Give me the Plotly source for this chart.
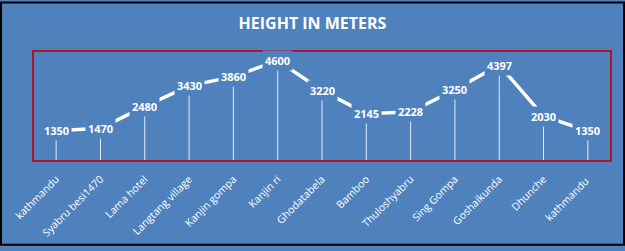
import plotly.graph_objects as go

categories = ["kathmandu", "Syabru besi1470", "Lama hotel", "Langtang village", "Kanjin gompa",
              "Kanjin ri", "Ghodatabela", "Bamboo", "Thuloshyabru", "Sing Gompa",
              "Goshaikunda", "Dhunche", "kathmandu "]
heights = [1350, 1470, 2480, 3430, 3860, 4600, 3220, 2145, 2228, 3250, 4397, 2030, 1350]
title_text = "HEIGHT IN METERS"

BG = "#4f81bd"
W, H = 625, 251
ML, MR, MT, MB = 34, 15, 52, 88

idx = list(range(len(categories)))

# drop lines built from the data
dx, dy = [], []
for i, v in zip(idx, heights):
    dx += [i, i, None]
    dy += [0, v, None]

fig = go.Figure()
fig.add_trace(go.Scatter(x=dx, y=dy, mode="lines",
                         line=dict(color="rgba(255,255,255,0.85)", width=1),
                         hoverinfo="skip", showlegend=False))
fig.add_trace(go.Scatter(x=idx, y=heights, mode="lines",
                         line=dict(color="white", width=3.5),
                         showlegend=False))

for i, v in zip(idx, heights):
    fig.add_annotation(x=i, y=v, text=f"<b>{v}</b>", showarrow=False,
                       xref="x", yref="y", bgcolor=BG, borderpad=2,
                       font=dict(color="white", size=11, family="Open Sans"))

pw = W - ML - MR
ph = H - MT - MB
# outer black frame
fig.add_shape(type="rect", xref="paper", yref="paper",
              x0=(1 - ML) / pw, x1=1 + (MR - 1) / pw,
              y0=-(MB - 1) / ph, y1=1 + (MT - 1) / ph,
              line=dict(color="black", width=2), layer="above")

fig.update_layout(
    width=W, height=H,
    margin=dict(l=ML, r=MR, t=MT, b=MB),
    paper_bgcolor=BG, plot_bgcolor=BG,
    title=dict(text=f"<b>{title_text}</b>", x=0.5, xanchor="center",
               y=1 - 23 / H, yanchor="middle",
               font=dict(color="white", size=16, family="Open Sans")),
    xaxis=dict(tickmode="array", tickvals=idx, ticktext=categories,
               range=[-0.5, len(categories) - 0.5], tickangle=-45,
               showgrid=False, zeroline=False, ticks="", ticklabelstandoff=7,
               showline=True, mirror=True, linecolor="#b0142a", linewidth=2,
               tickfont=dict(color="white", size=10.5, family="Open Sans")),
    yaxis=dict(range=[0, 5000], showgrid=False, zeroline=False,
               showticklabels=False, ticks="",
               showline=True, mirror=True, linecolor="#b0142a", linewidth=2),
)

fig.write_html("out.html")
